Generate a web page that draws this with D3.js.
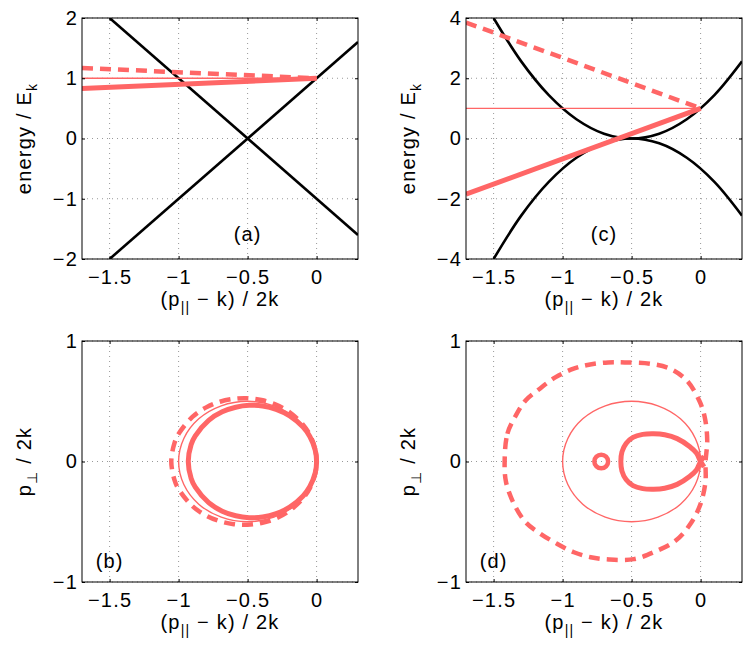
<!DOCTYPE html>
<html>
<head>
<meta charset="utf-8">
<script src="https://cdn.jsdelivr.net/npm/d3@7"></script>
<style>
body { margin: 0; background: #fff; }
text { font-family: "Liberation Sans", Arial, sans-serif; fill: #000; }
</style>
</head>
<body>
<div id="chart"></div>
<script>
// axis ticks
const xTicks = [-1.5, -1, -0.5, 0];
const yTicksA = [-2, -1, 0, 1, 2];
const yTicksC = [-4, -2, 0, 2, 4];
const yTicksBD = [-1, 0, 1];

// (a) linear dispersion
const dispA_x = [-1.5, 0.3];
const dispA_up = [-2, 1.6];
const dispA_down = [2, -1.6];

// red energy lines, shared x
const lineX = [-1.7, 0];
const thinA = [1, 1];
const thickA = [0.83, 1];
const dashA = [1.17, 1];

// (c) quadratic dispersion
const dispC_x = [-1.5, -1.3, -1.1, -0.9, -0.7, -0.5, -0.3, -0.1, 0.1, 0.3];
const dispC_up = [4, 2.56, 1.44, 0.64, 0.16, 0, 0.16, 0.64, 1.44, 2.56];
const dispC_down = [-4, -2.56, -1.44, -0.64, -0.16, 0, -0.16, -0.64, -1.44, -2.56];
const thinC = [1, 1];
const thickC = [-1.85, 1];
const dashC = [3.85, 1];

// (b), (d) thin circle
const thin_x = [0, -0.038, -0.146, -0.309, -0.5, -0.691, -0.854, -0.962, -1, -0.962, -0.854, -0.691, -0.5, -0.309, -0.146, -0.038];
const thin_y = [0, 0.191, 0.354, 0.462, 0.5, 0.462, 0.354, 0.191, 0, -0.191, -0.354, -0.462, -0.5, -0.462, -0.354, -0.191];

// (b) contours
const thickB_x = [0, -0.01, -0.049, -0.098, -0.195, -0.293, -0.391, -0.489, -0.586, -0.684, -0.782, -0.879, -0.909, -0.93, -0.909, -0.879, -0.782, -0.684, -0.586, -0.489, -0.391, -0.293, -0.195, -0.098, -0.049, -0.01];
const thickB_y = [0, 0.095, 0.208, 0.286, 0.379, 0.433, 0.461, 0.466, 0.45, 0.412, 0.342, 0.213, 0.141, 0, -0.141, -0.213, -0.342, -0.412, -0.45, -0.466, -0.461, -0.433, -0.379, -0.286, -0.208, -0.095];
const dashB_x = [0, -0.01, -0.05, -0.1, -0.2, -0.3, -0.4, -0.5, -0.6, -0.7, -0.8, -0.9, -1.0, -1.03, -1.053, -1.03, -1.0, -0.9, -0.8, -0.7, -0.6, -0.5, -0.4, -0.3, -0.2, -0.1, -0.05, -0.01];
const dashB_y = [0, 0.102, 0.224, 0.308, 0.412, 0.475, 0.51, 0.525, 0.52, 0.496, 0.449, 0.37, 0.229, 0.152, 0, -0.152, -0.229, -0.37, -0.449, -0.496, -0.52, -0.525, -0.51, -0.475, -0.412, -0.308, -0.224, -0.102];

// (d) contours
const dashD_x = [-1.42, -1.4, -1.34, -1.27, -1.17, -1.05, -0.92, -0.8, -0.67, -0.55, -0.36, -0.22, -0.1, -0.01, 0.03, 0.048, 0.036, 0.035, 0, -0.072, -0.18, -0.34, -0.485, -0.664, -0.797, -0.918, -1.04, -1.16, -1.268, -1.353, -1.41];
const dashD_y = [0, 0.23, 0.38, 0.505, 0.6, 0.7, 0.77, 0.805, 0.822, 0.822, 0.81, 0.77, 0.672, 0.506, 0.368, 0.174, 0, -0.17, -0.35, -0.515, -0.656, -0.753, -0.81, -0.813, -0.794, -0.753, -0.683, -0.6, -0.504, -0.351, -0.17];
const loopD_x = [0.025, 0, -0.03, -0.08, -0.17, -0.26, -0.34, -0.42, -0.49, -0.54, -0.57, -0.578, -0.57, -0.54, -0.49, -0.42, -0.34, -0.26, -0.17, -0.08, -0.03, 0, 0.025];
const loopD_y = [-0.045, 0, 0.07, 0.125, 0.19, 0.222, 0.23, 0.225, 0.2, 0.15, 0.08, 0, -0.08, -0.15, -0.2, -0.225, -0.23, -0.222, -0.19, -0.125, -0.07, 0, 0.045];
const ringD_x = [-0.67, -0.685, -0.72, -0.755, -0.77, -0.755, -0.72, -0.685];
const ringD_y = [0, 0.04, 0.056, 0.04, 0, -0.04, -0.056, -0.04];

const RED = "#ff6666";
const DASH = "11,7";
const W = 747, H = 647;
const fs = 20;

const svg = d3.select("#chart").append("svg")
    .attr("width", W)
    .attr("height", H);

const zip = (xs, ys) => xs.map((v, i) => [v, ys[i]]);
const fmt = d => String(d).replace("-", "\u2212");

function panel(o) {
    const x = d3.scaleLinear().domain([-1.7, 0.3]).range([o.left, o.left + 276]);
    const y = d3.scaleLinear().domain(o.yDomain).range([o.top + 241, o.top]);
    const g = svg.append("g");

    const clipId = "clip" + o.name;
    svg.append("clipPath").attr("id", clipId)
        .append("rect")
        .attr("x", o.left).attr("y", o.top)
        .attr("width", 276).attr("height", 241);

    // dotted grid
    g.selectAll(".gx").data(xTicks).enter().append("line")
        .attr("x1", d => x(d)).attr("x2", d => x(d))
        .attr("y1", o.top).attr("y2", o.top + 241)
        .attr("stroke", "#999").attr("stroke-dasharray", "1,4");
    g.selectAll(".gy").data(o.yTicks).enter().append("line")
        .attr("y1", d => y(d)).attr("y2", d => y(d))
        .attr("x1", o.left).attr("x2", o.left + 276)
        .attr("stroke", "#999").attr("stroke-dasharray", "1,4");

    const plot = g.append("g").attr("clip-path", `url(#${clipId})`);

    o.lines.forEach(l => {
        const gen = d3.line().x(d => x(d[0])).y(d => y(d[1]));
        if (l.closed) gen.curve(d3.curveCatmullRomClosed.alpha(0.5));
        else if (l.smooth) gen.curve(d3.curveCatmullRom.alpha(0.5));
        plot.append("path")
            .attr("d", gen(zip(l.x, l.y)))
            .attr("fill", "none")
            .attr("stroke", l.color)
            .attr("stroke-width", l.w)
            .attr("stroke-dasharray", l.dash || null)
            .attr("stroke-linejoin", "round");
    });

    // axes with inside ticks
    const xa = g.append("g").attr("transform", `translate(0,${o.top + 241})`)
        .call(d3.axisBottom(x).tickValues(xTicks).tickFormat(fmt).tickSize(-3).tickPadding(11));
    const ya = g.append("g").attr("transform", `translate(${o.left},0)`)
        .call(d3.axisLeft(y).tickValues(o.yTicks).tickFormat(fmt).tickSize(-3).tickPadding(4));
    g.append("g").attr("transform", `translate(0,${o.top})`)
        .call(d3.axisTop(x).tickValues(xTicks).tickFormat("").tickSize(-3));
    g.append("g").attr("transform", `translate(${o.left + 276},0)`)
        .call(d3.axisRight(y).tickValues(o.yTicks).tickFormat("").tickSize(-3));
    g.selectAll(".domain").remove();
    g.selectAll(".tick line").attr("stroke", "#000");
    [xa, ya].forEach(a => a.selectAll("text")
        .attr("font-size", fs).attr("fill", "#000")
        .style("font-family", "'Liberation Sans', Arial, sans-serif")
        .style("letter-spacing", "1.2px"));

    g.append("rect")
        .attr("x", o.left).attr("y", o.top)
        .attr("width", 276).attr("height", 241)
        .attr("fill", "none").attr("stroke", "#000").attr("stroke-width", 1);

    // x label
    const xl = g.append("text")
        .attr("x", o.left + 138).attr("y", o.top + 288)
        .attr("text-anchor", "middle")
        .attr("font-size", fs).style("letter-spacing", "1.2px");
    xl.append("tspan").text("(p");
    xl.append("tspan").attr("font-size", 14).attr("dy", 6).text("||");
    xl.append("tspan").attr("dy", -6).text(" \u2212 k) / 2k");

    // y label
    const yl = g.append("text")
        .attr("transform", `translate(${o.left - 51},${o.top + 120.5}) rotate(-90)`)
        .attr("text-anchor", "middle")
        .attr("font-size", fs).style("letter-spacing", "1.2px");
    yl.append("tspan").text(o.yLabel[0]);
    yl.append("tspan").attr("font-size", 14).attr("dy", 6).text(o.yLabel[1]);
    if (o.yLabel[2]) yl.append("tspan").attr("dy", -6).text(o.yLabel[2]);

    // panel tag
    g.append("text")
        .attr("x", x(o.tag[1])).attr("y", y(o.tag[2]))
        .attr("text-anchor", "middle")
        .attr("font-size", fs).style("letter-spacing", "1px")
        .text(o.tag[0]);
}

panel({
    name: "a", left: 82, top: 18, yDomain: [-2, 2], yTicks: yTicksA,
    yLabel: ["energy / E", "k"], tag: ["(a)", -0.5, -1.7],
    lines: [
        { x: dispA_x, y: dispA_up, color: "#000", w: 2.6 },
        { x: dispA_x, y: dispA_down, color: "#000", w: 2.6 },
        { x: lineX, y: thinA, color: RED, w: 1.4 },
        { x: lineX, y: dashA, color: RED, w: 4.5, dash: DASH },
        { x: lineX, y: thickA, color: RED, w: 5 }
    ]
});

panel({
    name: "c", left: 466, top: 18, yDomain: [-4, 4], yTicks: yTicksC,
    yLabel: ["energy / E", "k"], tag: ["(c)", -0.7, -3.4],
    lines: [
        { x: dispC_x, y: dispC_up, color: "#000", w: 2.6, smooth: true },
        { x: dispC_x, y: dispC_down, color: "#000", w: 2.6, smooth: true },
        { x: lineX, y: thinC, color: RED, w: 1.4 },
        { x: lineX, y: dashC, color: RED, w: 4.5, dash: DASH },
        { x: lineX, y: thickC, color: RED, w: 5 }
    ]
});

panel({
    name: "b", left: 82, top: 341, yDomain: [-1, 1], yTicks: yTicksBD,
    yLabel: ["p", "\u22a5", " / 2k"], tag: ["(b)", -1.5, -0.88],
    lines: [
        { x: thin_x, y: thin_y, color: RED, w: 1.4, closed: true },
        { x: dashB_x, y: dashB_y, color: RED, w: 4.5, dash: DASH, closed: true },
        { x: thickB_x, y: thickB_y, color: RED, w: 5, closed: true }
    ]
});

panel({
    name: "d", left: 466, top: 341, yDomain: [-1, 1], yTicks: yTicksBD,
    yLabel: ["p", "\u22a5", " / 2k"], tag: ["(d)", -1.5, -0.88],
    lines: [
        { x: thin_x, y: thin_y, color: RED, w: 1.4, closed: true },
        { x: dashD_x, y: dashD_y, color: RED, w: 4.5, dash: DASH, closed: true },
        { x: loopD_x, y: loopD_y, color: RED, w: 5, smooth: true },
        { x: ringD_x, y: ringD_y, color: RED, w: 4.5, closed: true }
    ]
});
</script>
</body>
</html>
